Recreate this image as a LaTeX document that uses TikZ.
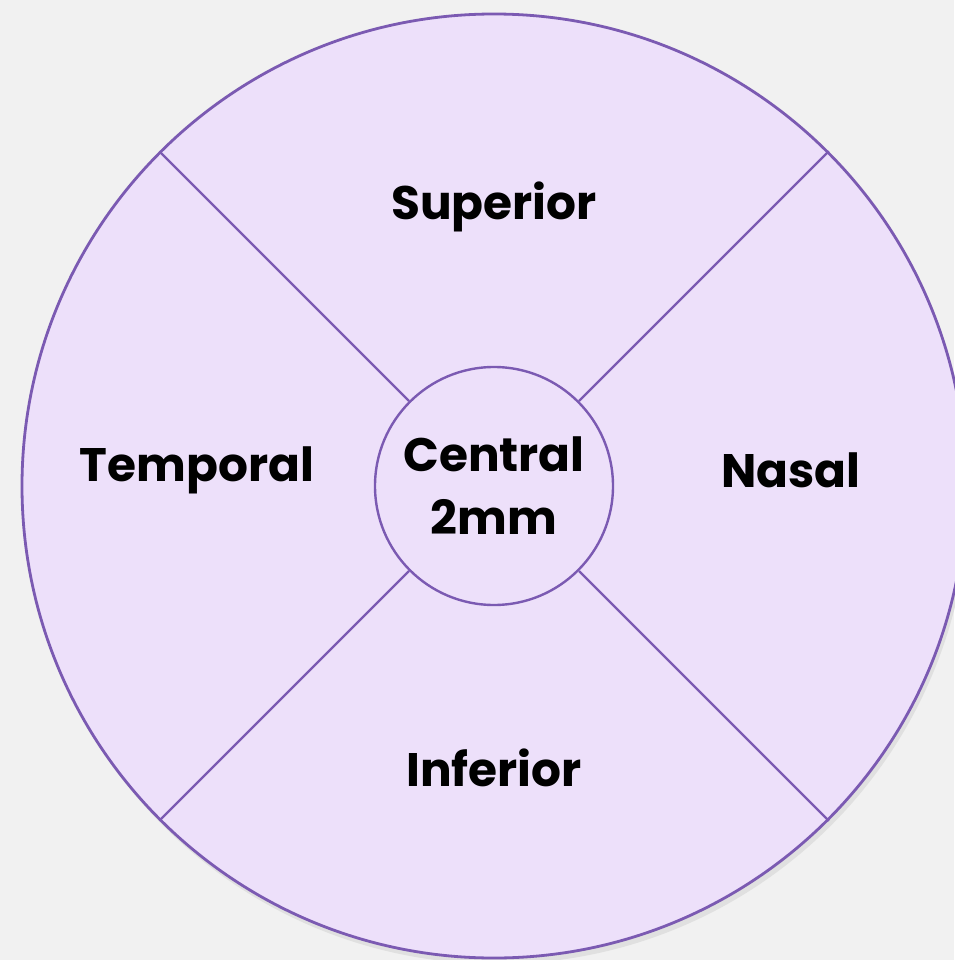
\documentclass[tikz,border=0pt]{standalone}
\usepackage{fontspec}
\setmainfont{Poppins}
\definecolor{bgray}{HTML}{F1F1F1}
\definecolor{lavender}{HTML}{EDE0FA}
\definecolor{rim}{HTML}{7B5AB2}
\tikzset{
  zone/.style={circle,draw=rim,line width=2.8pt,fill=lavender,inner sep=0pt},
  spoke/.style={draw=rim,line width=2.4pt},
  lbl/.style={font=\fontsize{47}{54}\selectfont\bfseries,text=black,align=center}
}
\begin{document}
\begin{tikzpicture}[x=1pt,y=-1pt]
  \fill[bgray] (0,0) rectangle (954,960);
  \useasboundingbox (0,0) rectangle (954,960);
  % soft shadow under the disc
  \fill[black!12] (497,492) circle (472);
  \node[zone,minimum size=944] (outer) at (494,486) {};
  \node[zone,minimum size=238,line width=2.4pt] (inner) at (494,486) {};
  \foreach \a in {45,135,225,315}
    \draw[spoke] (inner.\a) -- (outer.\a);
  \node[lbl] (sup) at (494,207) {Superior};
  \node[lbl] (tmp) at (197,470) {Temporal};
  \node[lbl] (nas) at (791,470) {Nasal};
  \node[lbl] (inf) at (494,768) {Inferior};
  \node[lbl,font=\fontsize{47}{63}\selectfont\bfseries] (cen) at (inner.center) {Central\\2mm};
\end{tikzpicture}
\end{document}
